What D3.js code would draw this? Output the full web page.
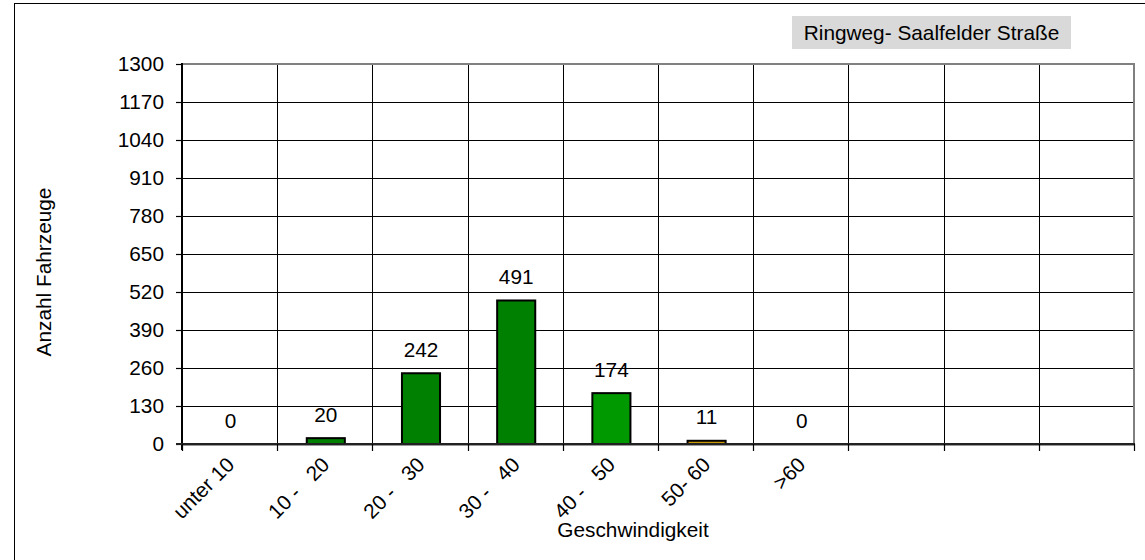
<!DOCTYPE html>
<html>
<head>
<meta charset="utf-8">
<script src="https://cdn.jsdelivr.net/npm/d3@7"></script>
<style>
  html, body { margin: 0; padding: 0; background: #fff; }
  svg { display: block; }
  text { font-family: "Liberation Sans", Arial, sans-serif; fill: #000; }
</style>
</head>
<body>
<svg id="chart" width="1145" height="560"></svg>
<script>
// ---- data ----
const categories = ["unter 10", "10 -   20", "20 -   30", "30 -   40", "40 -   50", "50- 60", ">60", "", "", ""];
const values = [0, 20, 242, 491, 174, 11, 0, null, null, null];
const barColors = ["#008000", "#008000", "#008000", "#008000", "#009900", "#cc9900", "#008000"];
const yTicks = [0, 130, 260, 390, 520, 650, 780, 910, 1040, 1170, 1300];
const title = "Ringweg- Saalfelder Straße";
const yTitle = "Anzahl Fahrzeuge";
const xTitle = "Geschwindigkeit";

// ---- layout ----
const svg = d3.select("#chart");
const L = 182, R = 1134, T = 64, B = 444;
const FS = "20.8px";

const x = d3.scaleBand().domain(d3.range(categories.length)).range([L, R]).paddingInner(0).paddingOuter(0);
const y = d3.scaleLinear().domain([0, 1300]).range([B, T]);

// outer border
svg.append("rect").attr("x", 14.5).attr("y", 3.5).attr("width", 1140).attr("height", 570)
  .attr("fill", "none").attr("stroke", "#000").attr("stroke-width", 1);

// title box
const tg = svg.append("g");
tg.append("rect").attr("x", 792).attr("y", 16).attr("width", 279).attr("height", 33).attr("fill", "#d9d9d9");
tg.append("text").attr("x", 931.5).attr("y", 39.5).attr("text-anchor", "middle")
  .style("font-size", FS).text(title);

// horizontal gridlines
svg.append("g").selectAll("line").data(yTicks.filter(d => d > 0 && d < 1300)).join("line")
  .attr("x1", L).attr("x2", R).attr("y1", d => Math.round(y(d)) + 0.5).attr("y2", d => Math.round(y(d)) + 0.5)
  .attr("stroke", "#000").attr("stroke-width", 1);

// vertical gridlines at band boundaries
const bounds = d3.range(categories.length + 1).map(i => i < categories.length ? x(i) : x(categories.length - 1) + x.bandwidth());
svg.append("g").selectAll("line").data(bounds.slice(1, -1)).join("line")
  .attr("x1", d => Math.round(d) + 0.5).attr("x2", d => Math.round(d) + 0.5).attr("y1", T).attr("y2", B)
  .attr("stroke", "#000").attr("stroke-width", 1);

// plot frame top & right (gray)
svg.append("line").attr("x1", L).attr("x2", R + 1).attr("y1", T).attr("y2", T).attr("stroke", "#808080").attr("stroke-width", 2);
svg.append("line").attr("x1", R).attr("x2", R).attr("y1", T).attr("y2", B).attr("stroke", "#808080").attr("stroke-width", 2);

// bars
const barW = x.bandwidth() * 0.4;
svg.append("g").selectAll("rect").data(values.map((v, i) => ({ v, i })).filter(d => d.v !== null && d.v > 0)).join("rect")
  .attr("x", d => x(d.i) + (x.bandwidth() - barW) / 2 + 1)
  .attr("y", d => y(d.v))
  .attr("width", barW)
  .attr("height", d => B - y(d.v))
  .attr("fill", d => barColors[d.i])
  .attr("stroke", "#000").attr("stroke-width", 2);

// value labels
svg.append("g").selectAll("text").data(values.map((v, i) => ({ v, i })).filter(d => d.v !== null)).join("text")
  .attr("x", d => x(d.i) + x.bandwidth() / 2 + 1)
  .attr("y", d => y(d.v) - 16.5)
  .attr("text-anchor", "middle")
  .style("font-size", FS)
  .text(d => d.v);

// y axis
const yAxis = d3.axisLeft(y).tickValues(yTicks).tickSize(6).tickPadding(12).tickFormat(d3.format("d"));
const ya = svg.append("g").attr("transform", `translate(${L},0)`).call(yAxis);
ya.select(".domain").remove();
ya.selectAll(".tick line").attr("stroke", "#000").attr("stroke-width", 1.2);
ya.selectAll(".tick text").style("font-size", FS).style("font-family", "'Liberation Sans', Arial, sans-serif").attr("fill", "#000");
svg.append("line").attr("x1", L).attr("x2", L).attr("y1", T - 1).attr("y2", B + 6).attr("stroke", "#000").attr("stroke-width", 2);

// x axis line and ticks
svg.append("line").attr("x1", L - 6).attr("x2", R + 1).attr("y1", B).attr("y2", B).attr("stroke", "#222").attr("stroke-width", 2);
svg.append("line").attr("x1", L).attr("x2", R + 1).attr("y1", B + 1.5).attr("y2", B + 1.5).attr("stroke", "#999").attr("stroke-width", 1);
svg.append("g").selectAll("line").data(bounds).join("line")
  .attr("x1", d => Math.round(d) + 0.5).attr("x2", d => Math.round(d) + 0.5).attr("y1", B).attr("y2", B + 7)
  .attr("stroke", "#000").attr("stroke-width", 1.2);

// x tick labels rotated
svg.append("g").selectAll("text").data(categories.map((c, i) => ({ c, i })).filter(d => d.c !== "")).join("text")
  .attr("transform", d => `translate(${x(d.i) + x.bandwidth() / 2 + 6},${B + 22}) rotate(-45)`)
  .attr("text-anchor", "end")
  .attr("xml:space", "preserve")
  .style("white-space", "pre")
  .style("font-size", FS)
  .text(d => d.c);

// axis titles
svg.append("text").attr("transform", `translate(51,272) rotate(-90)`).attr("text-anchor", "middle")
  .style("font-size", FS).text(yTitle);
svg.append("text").attr("x", 633).attr("y", 537).attr("text-anchor", "middle")
  .style("font-size", FS).text(xTitle);
</script>
</body>
</html>
